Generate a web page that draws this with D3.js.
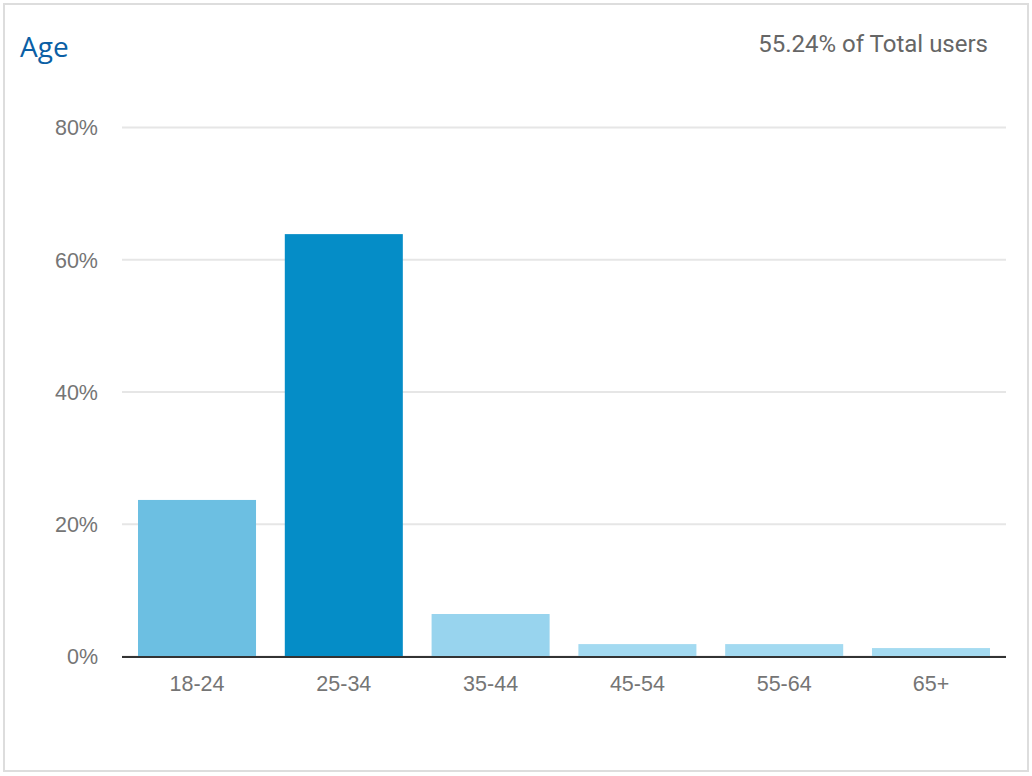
<!DOCTYPE html>
<html>
<head>
<meta charset="utf-8">
<script src="https://cdn.jsdelivr.net/npm/d3@7"></script>
<style>
  body { margin: 0; background: #fff; }
</style>
</head>
<body>
<div id="chart"></div>
<script>
// values
const ageGroups = ['18-24', '25-34', '35-44', '45-54', '55-64', '65+'];
const userShare = [23.6, 63.8, 6.35, 1.8, 1.8, 1.2];
const yTicks = [0, 20, 40, 60, 80];
const title = 'Age';
const subtitle = '55.24% of Total users';

const w = 1032;
const h = 776;
const margin = { top: 127, right: 26, bottom: 120, left: 122 };

const svg = d3
  .select('#chart')
  .append('svg')
  .attr('width', w)
  .attr('height', h);

// card border
svg
  .append('rect')
  .attr('x', 4)
  .attr('y', 4)
  .attr('width', w - 8)
  .attr('height', h - 9)
  .attr('fill', '#fff')
  .attr('stroke', '#dddddd')
  .attr('stroke-width', 2);

svg
  .append('text')
  .attr('x', 20)
  .attr('y', 57)
  .style('font-family', '"Open Sans", sans-serif')
  .style('font-size', '28px')
  .style('fill', '#0b5fa5')
  .text(title);

svg
  .append('text')
  .attr('x', 988)
  .attr('y', 52)
  .style('font-family', 'Roboto, sans-serif')
  .style('font-size', '24px')
  .style('fill', '#666666')
  .style('text-anchor', 'end')
  .text(subtitle);

const xScale = d3
  .scaleBand()
  .domain(ageGroups)
  .range([margin.left, w - margin.right])
  .paddingInner(0.196)
  .paddingOuter(0.109);

const yScale = d3
  .scaleLinear()
  .domain([0, 80])
  .range([h - margin.bottom, margin.top]);

const maxShare = d3.max(userShare);
const barColor = d3
  .scaleLinear()
  .domain([0, maxShare])
  .range(['#a8dcf2', '#058dc7'])
  .interpolate(d3.interpolateRgb);

// gridlines + y labels
const yAxis = d3
  .axisLeft(yScale)
  .tickValues(yTicks)
  .tickSize(-(w - margin.left - margin.right))
  .tickPadding(24)
  .tickFormat(d => d + '%');

const yG = svg
  .append('g')
  .attr('class', 'axis yAxis')
  .attr('transform', 'translate(' + margin.left + ',0)')
  .call(yAxis);
yG.select('.domain').remove();
yG.selectAll('line')
  .attr('stroke', '#e6e6e6')
  .attr('stroke-width', 2);
yG.selectAll('text')
  .attr('dy', '0.36em')
  .style('font-family', '"Liberation Sans", Arial, sans-serif')
  .style('font-size', '21.5px')
  .style('fill', '#757575');

const data = ageGroups.map((g, i) => ({ group: g, value: userShare[i] }));

svg
  .selectAll('.bar')
  .data(data)
  .enter()
  .append('rect')
  .attr('class', 'bar')
  .attr('x', d => xScale(d.group))
  .attr('y', d => yScale(d.value))
  .attr('width', xScale.bandwidth())
  .attr('height', d => yScale(0) - yScale(d.value))
  .attr('fill', d => barColor(d.value));

// baseline + category labels
const xAxis = d3.axisBottom(xScale).tickSize(0).tickPadding(19);
const xG = svg
  .append('g')
  .attr('class', 'axis xAxis')
  .attr('transform', 'translate(0,' + (yScale(0) + 1) + ')')
  .call(xAxis);
xG.select('.domain')
  .attr('stroke', '#333333')
  .attr('stroke-width', 2)
  .attr('d', 'M' + margin.left + ',0H' + (w - margin.right));
xG.selectAll('text')
  .attr('dy', '0.71em')
  .style('font-family', '"Liberation Sans", Arial, sans-serif')
  .style('font-size', '21.5px')
  .style('fill', '#757575');
</script>
</body>
</html>
